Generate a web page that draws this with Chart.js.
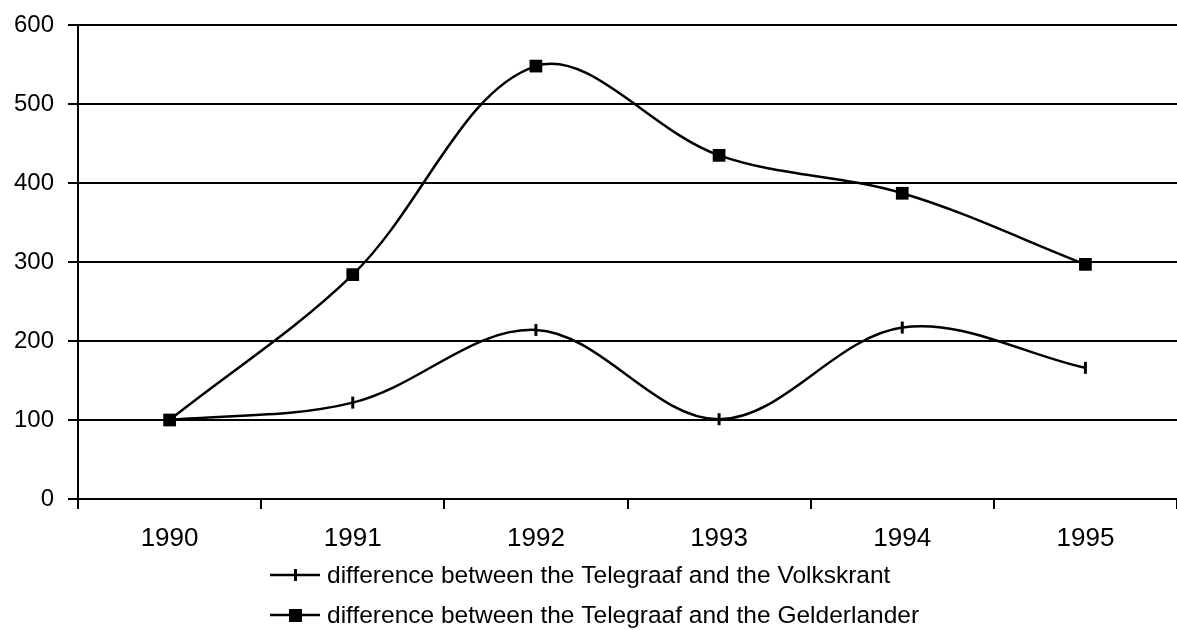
<!DOCTYPE html>
<html>
<head>
<meta charset="utf-8">
<script src="https://cdn.jsdelivr.net/npm/chart.js@4"></script>
<style>
  html, body { margin: 0; padding: 0; background: #fff; }
  canvas { display: block; }
</style>
</head>
<body>
<canvas id="chart" width="1177" height="630"></canvas>
<script>
// data
const years = ['1990', '1991', '1992', '1993', '1994', '1995'];
const volkskrant = [100, 122, 214, 101, 217, 166];
const gelderlander = [100, 284, 548, 435, 387, 297];
const yTicks = [0, 100, 200, 300, 400, 500, 600];

const FONT = '"Liberation Sans", Arial, sans-serif';

function noPadding(scale) {
  scale.paddingLeft = 0;
  scale.paddingRight = 0;
  scale.paddingTop = 0;
  scale.paddingBottom = 0;
}

// legend drawn in two stacked rows like the original
const legendPlugin = {
  id: 'stackedLegend',
  afterDraw(chart) {
    const ctx = chart.ctx;
    const rows = [575, 615];
    chart.data.datasets.forEach((ds, i) => {
      const y = rows[i];
      ctx.save();
      ctx.strokeStyle = '#000';
      ctx.lineWidth = 2.5;
      ctx.beginPath();
      ctx.moveTo(270, y);
      ctx.lineTo(320, y);
      ctx.stroke();
      ctx.fillStyle = '#000';
      if (ds.pointStyle === 'rect') {
        ctx.fillRect(289, y - 6, 13, 13);
      } else {
        ctx.lineWidth = 3;
        ctx.beginPath();
        ctx.moveTo(295.5, y - 6);
        ctx.lineTo(295.5, y + 6);
        ctx.stroke();
      }
      ctx.font = '24.5px ' + FONT;
      ctx.textAlign = 'left';
      ctx.textBaseline = 'middle';
      ctx.fillText(ds.label, 327, y + 1);
      ctx.restore();
    });
  }
};

const ctx = document.getElementById('chart').getContext('2d');
new Chart(ctx, {
  type: 'line',
  data: {
    labels: years,
    datasets: [
      {
        label: 'difference between the Telegraaf and the Volkskrant',
        data: volkskrant,
        borderColor: '#000',
        backgroundColor: '#000',
        borderWidth: 2.5,
        tension: 0.35,
        pointStyle: 'line',
        rotation: 90,
        pointRadius: 6,
        pointBorderWidth: 3,
        pointBorderColor: '#000'
      },
      {
        label: 'difference between the Telegraaf and the Gelderlander',
        data: gelderlander,
        borderColor: '#000',
        backgroundColor: '#000',
        borderWidth: 2.5,
        tension: 0.35,
        pointStyle: 'rect',
        pointRadius: 9,
        pointBorderWidth: 0,
        pointBackgroundColor: '#000'
      }
    ]
  },
  options: {
    responsive: false,
    animation: false,
    devicePixelRatio: 1,
    layout: {
      autoPadding: false,
      // plot runs a little past the right edge in the original
      padding: { top: 25, right: -5, bottom: 81, left: 0 }
    },
    plugins: {
      legend: { display: false },
      tooltip: { enabled: false }
    },
    scales: {
      x: {
        offset: true,
        grid: {
          offset: true,
          drawOnChartArea: false,
          drawTicks: true,
          tickLength: 10,
          color: '#000',
          lineWidth: 2
        },
        border: { color: '#000', width: 2 },
        ticks: {
          color: '#000',
          padding: 14,
          maxRotation: 0,
          font: { family: FONT, size: 26 }
        },
        afterFit(scale) {
          scale.height = 50;
          noPadding(scale);
        }
      },
      y: {
        min: 0,
        max: 600,
        afterBuildTicks(scale) {
          scale.ticks = yTicks.map(v => ({ value: v }));
        },
        grid: {
          color: '#000',
          lineWidth: 2,
          tickLength: 10
        },
        border: { color: '#000', width: 2 },
        ticks: {
          color: '#000',
          padding: 14,
          font: { family: FONT, size: 24 }
        },
        afterFit(scale) {
          scale.width = 78;
          noPadding(scale);
        }
      }
    }
  },
  plugins: [legendPlugin]
});
</script>
</body>
</html>
